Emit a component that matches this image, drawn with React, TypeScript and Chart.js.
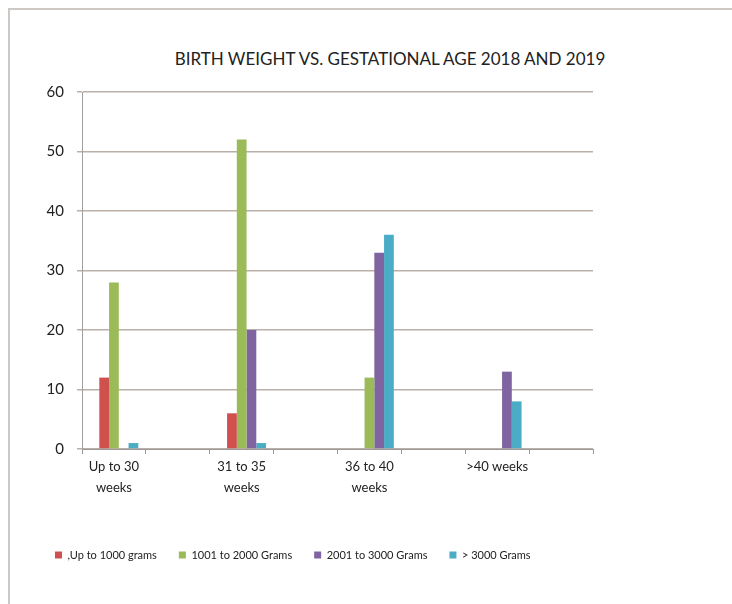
import React, { useEffect, useRef } from "react";
import { Chart, registerables } from "chart.js";

Chart.register(...registerables);

const titleText = "BIRTH WEIGHT VS. GESTATIONAL AGE 2018 AND 2019";
const categories: (string | string[])[] = [
  ["Up to 30", "weeks"],
  ["31 to 35", "weeks"],
  ["36 to 40", "weeks"],
  ">40 weeks",
];
const seriesLabels = [",Up to 1000 grams", "1001 to 2000 Grams", "2001 to 3000 Grams", "> 3000 Grams"];
const upTo1000 = [12, 6, 0, 0];
const from1001to2000 = [28, 52, 12, 0];
const from2001to3000 = [0, 20, 33, 13];
const over3000 = [1, 1, 36, 8];
const seriesColors = ["#D0504D", "#9BBB59", "#8064A2", "#4BACC6"];
const yMin = 0;
const yMax = 60;
const yStep = 10;

const FONT = "Lato, 'Liberation Sans', Arial, sans-serif";

// Each category is followed by an empty slot in the original (ticks every half-category)
function spread<T>(arr: T[], empty: T): T[] {
  const out: T[] = [];
  arr.forEach((v) => {
    out.push(v);
    out.push(empty);
  });
  return out;
}

export default function App() {
  const ref = useRef<HTMLCanvasElement | null>(null);

  useEffect(() => {
    if (!ref.current) return;
    const seriesData = [upTo1000, from1001to2000, from2001to3000, over3000];
    const datasets: any[] = [
      {
        label: "",
        data: spread(categories.map(() => null), null),
        backgroundColor: "rgba(0,0,0,0)",
      },
      ...seriesData.map((d, i) => ({
        label: seriesLabels[i],
        data: spread<number | null>(d, null),
        backgroundColor: seriesColors[i],
        borderWidth: 0,
      })),
    ];
    const chart = new Chart(ref.current, {
      type: "bar",
      data: {
        labels: spread<string | string[]>(categories, ""),
        datasets,
      },
      options: {
        animation: false,
        responsive: false,
        maintainAspectRatio: false,
        layout: { padding: { left: 23, right: 0, top: 22, bottom: 33.5 } },
        datasets: {
          bar: { categoryPercentage: 0.763, barPercentage: 1 },
        },
        plugins: {
          title: { display: false },
          tooltip: { enabled: false },
          legend: {
            display: true,
            position: "bottom",
            align: "start",
            labels: {
              boxWidth: 7,
              boxHeight: 7,
              padding: 22,
              color: "#222",
              font: { family: FONT, size: 11 },
              filter: (item: any) => item.text !== "",
            },
          },
        },
        scales: {
          x: {
            offset: true,
            grid: {
              display: true,
              drawOnChartArea: false,
              drawTicks: true,
              tickLength: 5,
              color: "#9a9a9a",
              offset: true,
            },
            border: { display: true, color: "#9a9a9a", width: 1 },
            ticks: {
              autoSkip: false,
              maxRotation: 0,
              minRotation: 0,
              padding: 2,
              color: "#222",
              font: { family: FONT, size: 13, lineHeight: 1.62 },
            },
            afterFit: (scale: any) => {
              scale.height = 78.5;
            },
          },
          y: {
            min: yMin,
            max: yMax,
            ticks: {
              stepSize: yStep,
              padding: 13,
              color: "#222",
              font: { family: FONT, size: 15 },
            },
            grid: {
              color: "#bbb0a8",
              lineWidth: 1.5,
              tickLength: 5,
            },
            border: { display: true, color: "#a0a0a0", width: 1 },
            afterFit: (scale: any) => {
              scale.width = 49;
            },
          },
          spacer: {
            type: "linear",
            position: "right",
            display: true,
            min: yMin,
            max: yMax,
            grid: { display: false, drawTicks: false },
            ticks: { display: false },
            border: { display: false },
            afterFit: (scale: any) => {
              scale.width = 117;
            },
          },
        },
      },
    });
    return () => chart.destroy();
  }, []);

  return (
    <div style={{ position: "fixed", left: 0, top: 0, width: 732, height: 604, background: "#fff", overflow: "hidden" }}>
      <div
        style={{
          position: "absolute",
          left: 8,
          top: 8,
          width: 724,
          height: 596,
          borderTop: "2px solid #cdc8c3",
          borderLeft: "2px solid #cdc8c3",
          boxSizing: "border-box",
        }}
      />
      <div
        style={{
          position: "absolute",
          left: 390,
          top: 58,
          transform: "translate(-50%, -50%)",
          whiteSpace: "nowrap",
          fontFamily: FONT,
          fontSize: 17,
          color: "#222",
        }}
      >
        {titleText}
      </div>
      <canvas
        ref={ref}
        width={700}
        height={534}
        style={{ position: "absolute", left: 10, top: 70, width: 700, height: 534 }}
      />
    </div>
  );
}
